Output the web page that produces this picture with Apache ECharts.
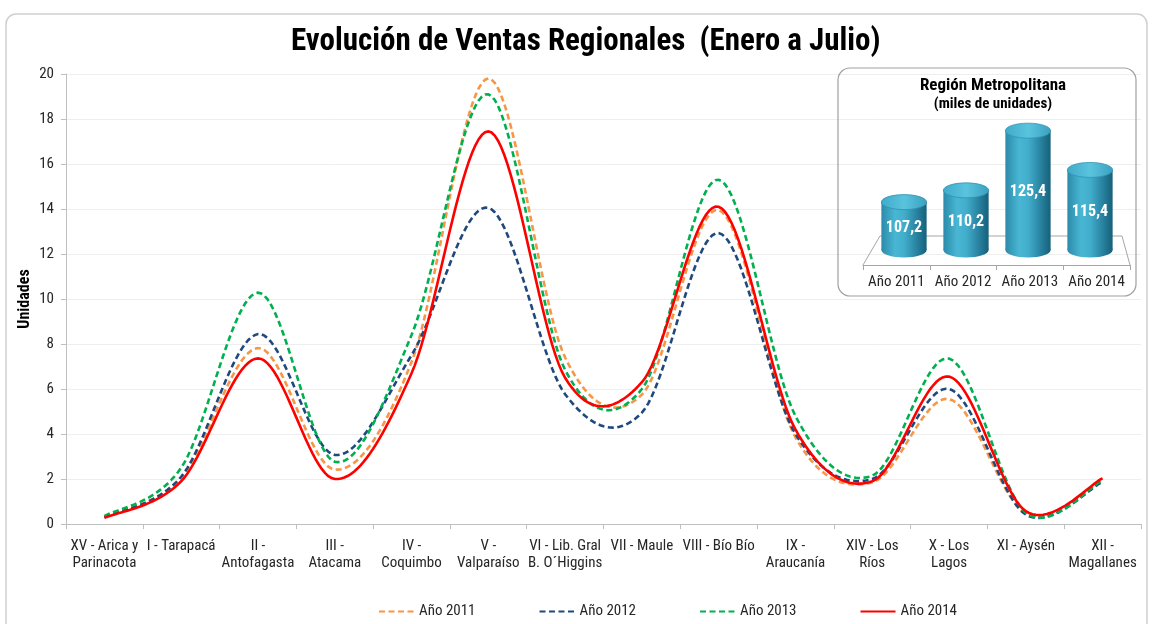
<!DOCTYPE html>
<html><head><meta charset="utf-8">
<script src="https://cdn.jsdelivr.net/npm/echarts@6/dist/echarts.min.js"></script>
<style>html,body{margin:0;padding:0;background:#fff}#c{width:1152px;height:624px}</style>
</head><body><div id="c"></div>
<script>
// ---------- data ----------
const categories = ['XV - Arica y\nParinacota','I - Tarapacá','II -\nAntofagasta','III -\nAtacama','IV -\nCoquimbo','V -\nValparaíso','VI - Lib. Gral\nB. O´Higgins','VII - Maule','VIII - Bío Bío','IX -\nAraucanía','XIV - Los\nRíos','X - Los\nLagos','XI - Aysén','XII -\nMagallanes'];
const seriesNames = ['Año 2011','Año 2012','Año 2013','Año 2014'];
const ventas2011 = [0.32, 2.05, 7.82, 2.42, 7.2, 19.8, 7.4, 5.75, 13.95, 3.85, 1.85, 5.55, 0.47, 1.95];
const ventas2012 = [0.30, 2.10, 8.44, 3.07, 7.5, 14.05, 5.77, 4.95, 12.93, 4.0, 2.0, 6.0, 0.42, 1.88];
const ventas2013 = [0.35, 2.50, 10.28, 2.77, 8.4, 19.1, 6.85, 6.0, 15.3, 4.8, 2.15, 7.35, 0.50, 1.95];
const ventas2014 = [0.27, 1.90, 7.36, 2.00, 6.7, 17.45, 6.5, 6.3, 14.1, 4.2, 1.9, 6.55, 0.57, 2.03];
const yMin = 0, yMax = 20, yStep = 2;
const rmYears = ['Año 2011','Año 2012','Año 2013','Año 2014'];
const rmValues = [107.2, 110.2, 125.4, 115.4];
const rmBase = 95, rmTop = 135;

// ---------- styles ----------
const FONT = "'Liberation Sans Narrow','Arial Narrow','Roboto Condensed','Liberation Sans',sans-serif";
const TXT = '#262626';
const colors = ['#f79646','#1f497d','#00b050','#ff0000'];
const dashed = [true, true, true, false];
const allData = [ventas2011, ventas2012, ventas2013, ventas2014];
const LW = 2.6, DASH = [6, 3.5];

const chart = echarts.init(document.getElementById('c'), null, {renderer:'canvas'});

// legend-only line series (no data) so the legend shows line icons
const legendSeries = seriesNames.map((nm, i) => ({
  name: nm, type: 'line', data: [], symbol: 'none', xAxisIndex: 0, yAxisIndex: 0,
  lineStyle: {color: colors[i], width: LW, type: dashed[i] ? DASH : 'solid'},
  itemStyle: {color: colors[i], opacity: 0}
}));

// smoothed curves (Catmull-Rom through the values, positioned with api.coord)
const curveSeries = allData.map((arr, idx) => ({
  name: seriesNames[idx], type: 'custom', xAxisIndex: 0, yAxisIndex: 0, z: 3 + idx,
  data: arr.map((v, i) => [i, v]),
  renderItem(params, api) {
    if (params.dataIndex !== 0) return null;
    const n = arr.length;
    const P = arr.map((v, i) => api.coord([i, v]));
    const pts = [];
    const S = 24;
    for (let i = 0; i < n - 1; i++) {
      const p0 = P[Math.max(i - 1, 0)], p1 = P[i], p2 = P[i + 1], p3 = P[Math.min(i + 2, n - 1)];
      const c1 = [p1[0] + (p2[0] - p0[0]) / 6, p1[1] + (p2[1] - p0[1]) / 6];
      const c2 = [p2[0] - (p3[0] - p1[0]) / 6, p2[1] - (p3[1] - p1[1]) / 6];
      for (let s = (i === 0 ? 0 : 1); s <= S; s++) {
        const t = s / S, u = 1 - t;
        const a = u * u * u, b = 3 * u * u * t, c = 3 * u * t * t, d = t * t * t;
        pts.push([a * p1[0] + b * c1[0] + c * c2[0] + d * p2[0],
                  a * p1[1] + b * c1[1] + c * c2[1] + d * p2[1]]);
      }
    }
    return {type: 'polyline', shape: {points: pts},
      style: {stroke: colors[idx], lineWidth: LW, lineDash: dashed[idx] ? DASH : null, fill: null}};
  }
}));

const bodyGrad = () => new echarts.graphic.LinearGradient(0, 0, 1, 0, [
  {offset: 0, color: '#2c8aa9'}, {offset: 0.3, color: '#48b6d4'},
  {offset: 0.5, color: '#42aecc'}, {offset: 0.8, color: '#267f9d'}, {offset: 1, color: '#17607a'}]);
const topGrad = () => new echarts.graphic.LinearGradient(0, 0, 1, 0, [
  {offset: 0, color: '#40aac8'}, {offset: 0.5, color: '#5ac4df'}, {offset: 1, color: '#3aa0be'}]);

const cylSeries = {
  type: 'custom', xAxisIndex: 1, yAxisIndex: 1, z: 10,
  data: rmValues.map((v, i) => [i, v]),
  renderItem(params, api) {
    const top = api.coord([api.value(0), api.value(1)]);
    const bot = api.coord([api.value(0), rmBase]);
    const w = api.size([1, 0])[0] * 0.73;
    const rx = w / 2, ry = 7.5, cx = top[0];
    const label = String(api.value(1).toFixed(1)).replace('.', ',');
    return {type: 'group', children: [
      {type: 'ellipse', shape: {cx: cx, cy: bot[1], rx: rx, ry: ry}, style: {fill: bodyGrad()}},
      {type: 'rect', shape: {x: cx - rx, y: top[1], width: w, height: bot[1] - top[1]}, style: {fill: bodyGrad()}},
      {type: 'ellipse', shape: {cx: cx, cy: top[1], rx: rx, ry: ry}, style: {fill: topGrad(), stroke: '#2f93b2', lineWidth: 0.8}},
      {type: 'text', style: {text: label, x: cx, y: (top[1] + bot[1]) / 2 + 2, fill: '#ffffff',
        font: 'bold 16px ' + FONT, align: 'center', verticalAlign: 'middle', textAlign: 'center', textVerticalAlign: 'middle'}}
    ]};
  }
};

const option = {
  animation: false,
  backgroundColor: '#ffffff',
  textStyle: {fontFamily: FONT},
  title: {text: 'Evolución de Ventas Regionales  (Enero a Julio)', left: 286, top: 22,
    textStyle: {fontSize: 31, fontWeight: 'bold', color: '#000', fontFamily: FONT}},
  legend: {data: seriesNames, left: 373, top: 599, itemWidth: 35, itemHeight: 14, itemGap: 63,
    itemStyle: {opacity: 0},
    textStyle: {fontSize: 15, color: TXT, fontFamily: FONT}},
  grid: [
    {left: 66, right: 11, top: 74, bottom: 100},
    {left: 873, width: 248, top: 93, height: 157},
    {left: 863, width: 267, top: 245, height: 20}
  ],
  xAxis: [
    {type: 'category', gridIndex: 0, data: categories, boundaryGap: true,
      axisLine: {lineStyle: {color: '#bfbfbf', width: 1}},
      axisTick: {show: true, length: 5, lineStyle: {color: '#bfbfbf'}},
      axisLabel: {interval: 0, fontSize: 15, lineHeight: 17, margin: 14, color: TXT, fontFamily: FONT}},
    {type: 'category', gridIndex: 1, data: rmYears, show: false},
    {type: 'category', gridIndex: 2, data: rmYears, boundaryGap: true,
      axisLine: {lineStyle: {color: '#a6a6a6', width: 1}},
      axisTick: {show: true, length: 5, lineStyle: {color: '#a6a6a6'}},
      axisLabel: {interval: 0, fontSize: 15, margin: 10, color: TXT, fontFamily: FONT}}
  ],
  yAxis: [
    {type: 'value', gridIndex: 0, min: yMin, max: yMax, interval: yStep,
      name: 'Unidades', nameLocation: 'middle', nameGap: 33, nameRotate: 90, nameMoveOverlap: false,
      nameTextStyle: {fontSize: 16, fontWeight: 'bold', color: '#000', fontFamily: FONT},
      axisLine: {show: true, lineStyle: {color: '#bfbfbf', width: 1}},
      axisTick: {show: true, length: 5, lineStyle: {color: '#bfbfbf'}},
      axisLabel: {fontSize: 15, margin: 12, color: TXT, fontFamily: FONT},
      splitLine: {lineStyle: {color: '#eeeeee', width: 1}}},
    {type: 'value', gridIndex: 1, min: rmBase, max: rmTop, show: false, splitLine: {show: false}},
    {type: 'value', gridIndex: 2, show: false, splitLine: {show: false}}
  ],
  graphic: [
    {type: 'rect', z: -10, shape: {x: 6, y: 14, width: 1141, height: 640, r: 10},
      style: {fill: 'none', stroke: '#cfcfcf', lineWidth: 1.5}},
    {type: 'rect', z: 1, shape: {x: 838, y: 68, width: 298, height: 228, r: 12},
      style: {fill: 'none', stroke: '#a0a0a0', lineWidth: 1.2}},
    {type: 'polyline', z: 1, shape: {points: [[863, 265], [880, 236], [1122, 236], [1130, 265]]},
      style: {fill: 'none', stroke: '#a6a6a6', lineWidth: 1}},
    {type: 'text', z: 5, style: {text: 'Región Metropolitana', x: 993, y: 86, fill: '#000',
      font: 'bold 17px ' + FONT, align: 'center', verticalAlign: 'middle', textAlign: 'center', textVerticalAlign: 'middle'}},
    {type: 'text', z: 5, style: {text: '(miles de unidades)', x: 993, y: 104, fill: '#000',
      font: 'bold 15px ' + FONT, align: 'center', verticalAlign: 'middle', textAlign: 'center', textVerticalAlign: 'middle'}}
  ],
  series: legendSeries.concat(curveSeries, [cylSeries])
};
chart.setOption(option);
</script></body></html>
